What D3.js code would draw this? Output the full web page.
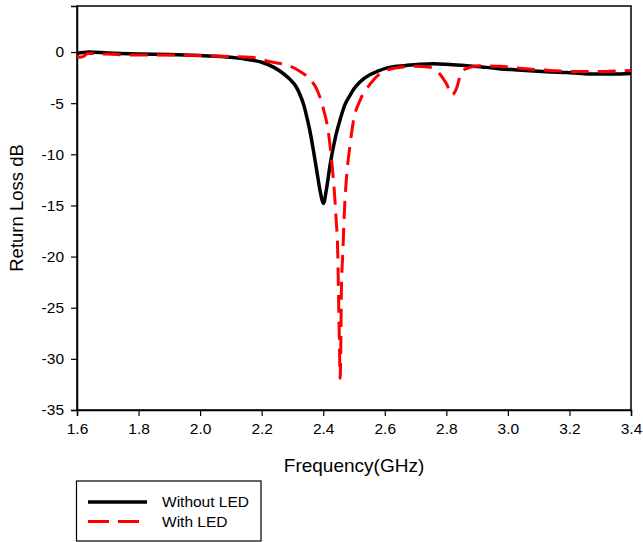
<!DOCTYPE html>
<html>
<head>
<meta charset="utf-8">
<script src="https://cdn.jsdelivr.net/npm/d3@7"></script>
<style>
  html, body { margin: 0; padding: 0; background: #fff; }
  svg { display: block; font-family: "Liberation Sans", Arial, sans-serif; }
</style>
</head>
<body>
<svg id="chart" width="643" height="542"></svg>
<script>
// ---- data ----
const seriesNames = ["Without LED", "With LED"];
const xTicks = [1.6, 1.8, 2.0, 2.2, 2.4, 2.6, 2.8, 3.0, 3.2, 3.4];
const yTicks = [0, -5, -10, -15, -20, -25, -30, -35];

// Without LED: [frequency GHz, return loss dB]
const withoutFreq = [1.6, 1.62, 1.64, 1.7, 1.8, 1.9, 2.0, 2.1, 2.16, 2.2, 2.24, 2.27, 2.293, 2.31, 2.325, 2.337, 2.347, 2.358, 2.368, 2.38, 2.39, 2.401, 2.41, 2.423, 2.44, 2.455, 2.47, 2.488, 2.50, 2.52, 2.553, 2.575, 2.608, 2.64, 2.672, 2.715, 2.759, 2.8, 2.867, 2.93, 2.976, 3.03, 3.083, 3.14, 3.192, 3.24, 3.28, 3.34, 3.4];
const withoutDB   = [-0.13, -0.05, 0.0, -0.1, -0.2, -0.25, -0.35, -0.5, -0.75, -1.0, -1.5, -2.1, -2.7, -3.3, -4.2, -5.2, -6.4, -7.9, -9.6, -11.8, -13.6, -14.8, -13.5, -10.9, -8.3, -6.6, -5.2, -4.2, -3.6, -2.9, -2.2, -1.9, -1.55, -1.4, -1.3, -1.2, -1.15, -1.2, -1.35, -1.5, -1.65, -1.75, -1.85, -1.95, -2.0, -2.1, -2.15, -2.15, -2.1];

// With LED
const withFreq = [1.6, 1.608, 1.62, 1.635, 1.65, 1.7, 1.78, 1.9, 2.0, 2.1, 2.163, 2.228, 2.293, 2.325, 2.358, 2.38, 2.40, 2.417, 2.426, 2.434, 2.442, 2.447, 2.45, 2.453, 2.455, 2.457, 2.459, 2.464, 2.468, 2.477, 2.485, 2.499, 2.52, 2.553, 2.585, 2.629, 2.694, 2.748, 2.765, 2.78, 2.792, 2.802, 2.81, 2.818, 2.826, 2.835, 2.846, 2.855, 2.867, 2.91, 2.976, 3.03, 3.084, 3.14, 3.192, 3.25, 3.3, 3.35, 3.4];
const withDB   = [-0.4, -0.5, -0.45, -0.15, -0.15, -0.2, -0.3, -0.3, -0.35, -0.45, -0.5, -0.95, -1.4, -1.9, -2.7, -3.7, -5.5, -7.9, -10.2, -12.8, -16.4, -19.4, -24.2, -29.1, -31.9, -29.0, -23.3, -19.4, -16.1, -11.8, -9.6, -6.6, -4.7, -3.1, -2.1, -1.6, -1.4, -1.5, -1.7, -2.2, -2.7, -3.2, -3.8, -4.2, -4.0, -3.4, -2.2, -1.8, -1.6, -1.35, -1.4, -1.55, -1.7, -1.8, -1.9, -1.9, -1.9, -1.85, -1.8];

const xDomain = [1.6, 3.4];
const yDomain = [-35, 4.5];

// ---- layout ----
const svg = d3.select("#chart");
const margin = { left: 77, right: 12, top: 6, bottom: 132 };
const W = 643, H = 542;
const x = d3.scaleLinear().domain(xDomain).range([margin.left, W - margin.right]);
const y = d3.scaleLinear().domain(yDomain).range([H - margin.bottom, margin.top]);

// frame
svg.append("rect")
  .attr("x", x(xDomain[0])).attr("y", y(yDomain[1]))
  .attr("width", x(xDomain[1]) - x(xDomain[0]))
  .attr("height", y(yDomain[0]) - y(yDomain[1]))
  .attr("fill", "none").attr("stroke", "#000").attr("stroke-width", 1.5);

// axes
const xAxis = svg.append("g")
  .attr("transform", `translate(0,${y(yDomain[0])})`)
  .call(d3.axisBottom(x).tickValues(xTicks).tickFormat(d3.format(".1f")).tickSize(6).tickPadding(7));
const yAxis = svg.append("g")
  .attr("transform", `translate(${x(xDomain[0])},0)`)
  .call(d3.axisLeft(y).tickValues(yTicks).tickFormat(d => d).tickSize(6).tickPadding(7));
[xAxis, yAxis].forEach(g => {
  g.select(".domain").attr("stroke", "#000").attr("stroke-width", 1.5);
  g.selectAll(".tick line").attr("stroke", "#000").attr("stroke-width", 1.2);
  g.selectAll(".tick text").attr("fill", "#000").style("font-size", "15.5px")
   .style("font-family", '"Liberation Sans", Arial, sans-serif');
});

// axis titles
svg.append("text")
  .attr("x", (x(xDomain[0]) + x(xDomain[1])) / 2).attr("y", 472)
  .attr("text-anchor", "middle").style("font-size", "19px").text("Frequency(GHz)");
svg.append("text")
  .attr("transform", `translate(23,${(y(yDomain[0]) + y(yDomain[1])) / 2}) rotate(-90)`)
  .attr("text-anchor", "middle").style("font-size", "18.5px").text("Return Loss dB");

// clip
svg.append("clipPath").attr("id", "plot").append("rect")
  .attr("x", x(xDomain[0])).attr("y", y(yDomain[1]))
  .attr("width", x(xDomain[1]) - x(xDomain[0]))
  .attr("height", y(yDomain[0]) - y(yDomain[1]));

const line = d3.line().x(d => x(d[0])).y(d => y(d[1])).curve(d3.curveMonotoneX);
const dataWithout = withoutFreq.map((f, i) => [f, withoutDB[i]]);
const dataWith = withFreq.map((f, i) => [f, withDB[i]]);

const plot = svg.append("g").attr("clip-path", "url(#plot)");
plot.append("path").datum(dataWithout).attr("d", line)
  .attr("fill", "none").attr("stroke", "#000").attr("stroke-width", 3.5)
  .attr("stroke-linejoin", "round");
plot.append("path").datum(dataWith).attr("d", line)
  .attr("fill", "none").attr("stroke", "#ff0000").attr("stroke-width", 3)
  .attr("stroke-dasharray", "18,9");

// legend
const lg = svg.append("g");
lg.append("rect").attr("x", 76.5).attr("y", 481).attr("width", 184.5).attr("height", 60)
  .attr("fill", "#fff").attr("stroke", "#000").attr("stroke-width", 1.2);
const legendColors = ["#000", "#ff0000"];
const legendDash = [null, "21,9"];
const legendWidth = [3.5, 3];
seriesNames.forEach((name, i) => {
  const yy = 502 + i * 19.5;
  lg.append("line").attr("x1", 88).attr("x2", 147).attr("y1", yy).attr("y2", yy)
    .attr("stroke", legendColors[i]).attr("stroke-width", legendWidth[i])
    .attr("stroke-dasharray", legendDash[i]);
  lg.append("text").attr("x", 162).attr("y", yy).attr("dy", "0.35em")
    .style("font-size", "15.5px").text(name);
});
</script>
</body>
</html>
